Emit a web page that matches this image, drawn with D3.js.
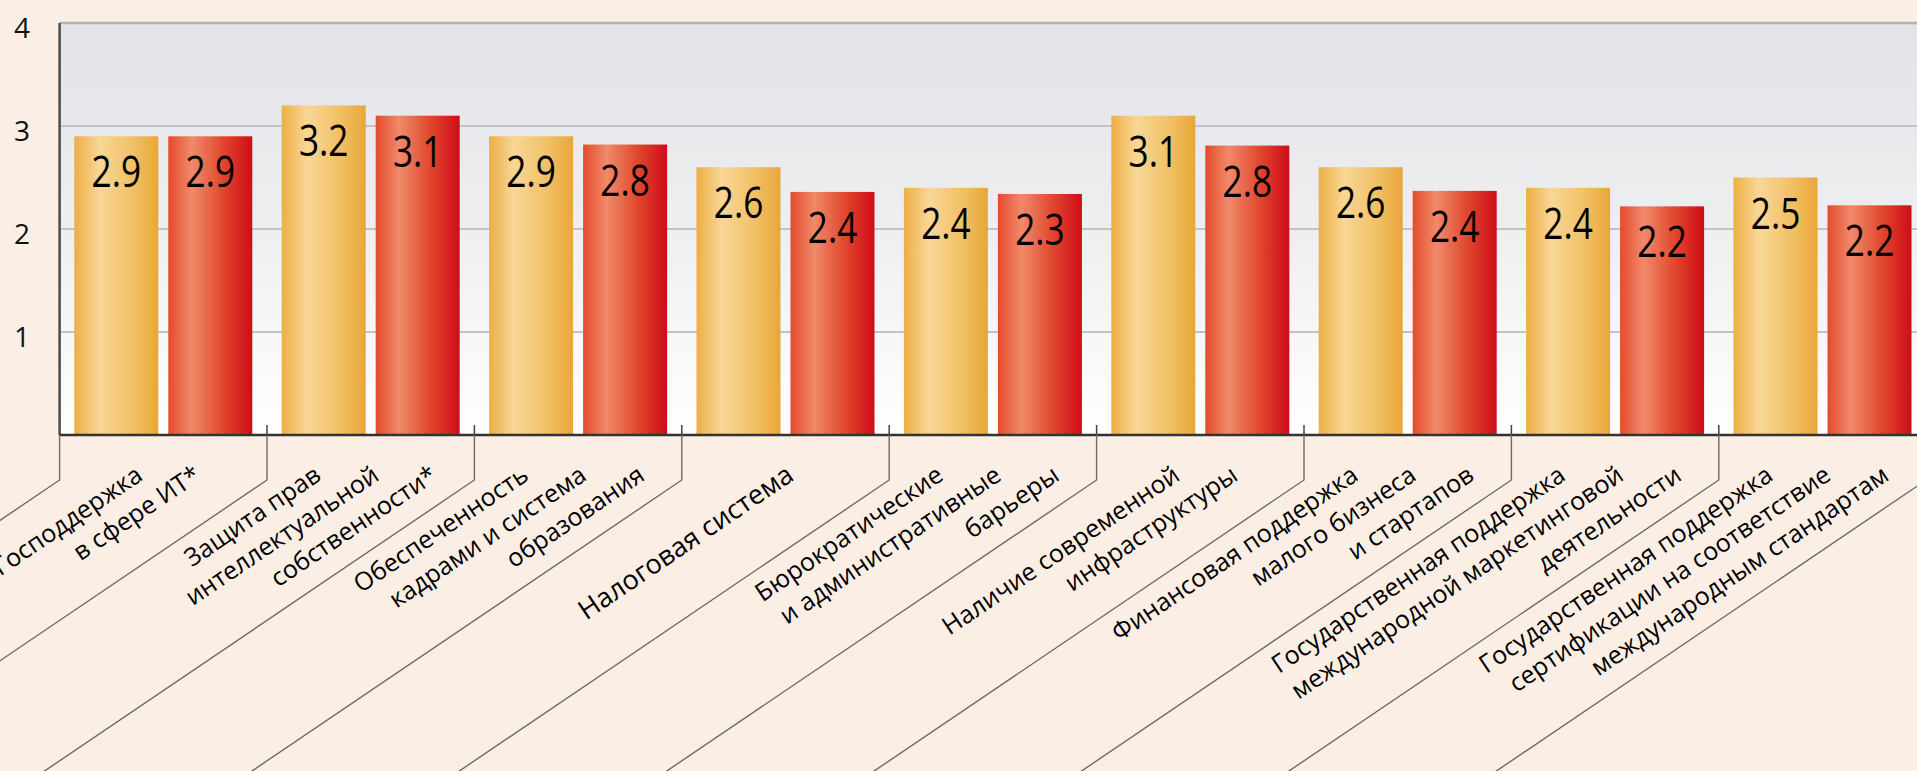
<!DOCTYPE html>
<html>
<head>
<meta charset="utf-8">
<script src="https://cdn.jsdelivr.net/npm/d3@7"></script>
<style>
  html, body { margin: 0; padding: 0; background: #fbefe5; overflow: hidden; }
  svg { display: block; }
</style>
</head>
<body>
<div id="chart"></div>
<script>
// Chart data
const categories = [
    ["Господдержка", "в сфере ИТ*"],
    ["Защита прав", "интеллектуальной", "собственности*"],
    ["Обеспеченность", "кадрами и система", "образования"],
    ["Налоговая система"],
    ["Бюрократические", "и административные", "барьеры"],
    ["Наличие современной", "инфраструктуры"],
    ["Финансовая поддержка", "малого бизнеса", "и стартапов"],
    ["Государственная поддержка", "международной маркетинговой", "деятельности"],
    ["Государственная поддержка", "сертификации на соответствие", "международным стандартам"]
];
const yellowValues = [2.9, 3.2, 2.9, 2.6, 2.4, 3.1, 2.6, 2.4, 2.5];
const redValues = [2.9, 3.1, 2.82, 2.36, 2.34, 2.81, 2.37, 2.22, 2.23];
const yTicks = [1, 2, 3, 4];

const width = 1917;
const height = 771;
const plotLeft = 59.6;
const groupStep = 207.4;
const plotTop = 23;
const baseY = 435;

const svg = d3.select("#chart").append("svg")
    .attr("width", width)
    .attr("height", height);

// Scales
const x = d3.scaleBand()
    .domain(d3.range(categories.length))
    .range([plotLeft, plotLeft + groupStep * categories.length])
    .paddingInner(0)
    .paddingOuter(0);

const xInner = d3.scaleBand()
    .domain(["yellow", "red"])
    .range([14.7, 192.7])
    .paddingInner(10 / 94);

const y = d3.scaleLinear()
    .domain([0, 4])
    .range([baseY, plotTop]);

// Gradients
const defs = svg.append("defs");

const bg = defs.append("linearGradient")
    .attr("id", "plotBg")
    .attr("x1", 0).attr("y1", 0).attr("x2", 0).attr("y2", 1);
bg.append("stop").attr("offset", "0%").attr("stop-color", "#e1e3e6");
bg.append("stop").attr("offset", "55%").attr("stop-color", "#eff0f2");
bg.append("stop").attr("offset", "100%").attr("stop-color", "#ffffff");

const yellowGrad = defs.append("linearGradient")
    .attr("id", "yellowGrad")
    .attr("x1", 0).attr("y1", 0).attr("x2", 1).attr("y2", 0);
yellowGrad.append("stop").attr("offset", "0%").attr("stop-color", "#edae45");
yellowGrad.append("stop").attr("offset", "30%").attr("stop-color", "#f8d796");
yellowGrad.append("stop").attr("offset", "70%").attr("stop-color", "#f1c065");
yellowGrad.append("stop").attr("offset", "100%").attr("stop-color", "#e9a638");

const redGrad = defs.append("linearGradient")
    .attr("id", "redGrad")
    .attr("x1", 0).attr("y1", 0).attr("x2", 1).attr("y2", 0);
redGrad.append("stop").attr("offset", "0%").attr("stop-color", "#e54a2c");
redGrad.append("stop").attr("offset", "28%").attr("stop-color", "#f08a6b");
redGrad.append("stop").attr("offset", "65%").attr("stop-color", "#e0472e");
redGrad.append("stop").attr("offset", "100%").attr("stop-color", "#cf0c18");

// Plot background
svg.append("rect")
    .attr("x", plotLeft)
    .attr("y", plotTop)
    .attr("width", x.range()[1] - plotLeft)
    .attr("height", baseY - plotTop)
    .attr("fill", "url(#plotBg)");

// Gridlines
svg.append("g")
    .selectAll("line")
    .data(yTicks)
    .enter().append("line")
    .attr("x1", plotLeft)
    .attr("x2", width)
    .attr("y1", d => y(d))
    .attr("y2", d => y(d))
    .attr("stroke", d => d === 4 ? "#b0b1b3" : "#c2c3c5")
    .attr("stroke-width", d => d === 4 ? 2.5 : 2);

// Y tick labels
svg.append("g")
    .selectAll("text")
    .data(yTicks)
    .enter().append("text")
    .attr("x", 22)
    .attr("y", d => y(d) + 15)
    .attr("text-anchor", "middle")
    .attr("font-family", "'Open Sans', 'Noto Sans', sans-serif")
    .attr("font-size", 28)
    .attr("fill", "#111")
    .text(d => d);

// Bars
const rows = categories.map((c, i) => ({ i, yellow: yellowValues[i], red: redValues[i] }));

const group = svg.append("g")
    .selectAll("g")
    .data(rows)
    .enter().append("g")
    .attr("transform", d => `translate(${x(d.i)},0)`);

const bars = group.selectAll("g.bar")
    .data(d => [{ key: "yellow", v: d.yellow }, { key: "red", v: d.red }])
    .enter().append("g")
    .attr("class", "bar");

bars.append("rect")
    .attr("x", d => xInner(d.key))
    .attr("y", d => y(d.v))
    .attr("width", xInner.bandwidth())
    .attr("height", d => baseY - y(d.v))
    .attr("fill", d => d.key === "yellow" ? "url(#yellowGrad)" : "url(#redGrad)");

// Value labels, slightly condensed
bars.append("text")
    .attr("transform", d => `translate(${xInner(d.key) + xInner.bandwidth() / 2},${y(d.v) + 51}) scale(0.8,1)`)
    .attr("text-anchor", "middle")
    .attr("font-family", "'Open Sans', 'Noto Sans', sans-serif")
    .attr("font-size", 44)
    .attr("font-weight", 500)
    .attr("fill", "#000")
    .text(d => d3.format(".1f")(d.v));

// Axis lines
svg.append("line")
    .attr("x1", plotLeft).attr("x2", plotLeft)
    .attr("y1", plotTop).attr("y2", baseY)
    .attr("stroke", "#4a4a4a")
    .attr("stroke-width", 2.5);

svg.append("line")
    .attr("x1", plotLeft).attr("x2", width)
    .attr("y1", baseY).attr("y2", baseY)
    .attr("stroke", "#333")
    .attr("stroke-width", 2.5);

// Group boundaries: small ticks and leader lines
const boundaries = d3.range(categories.length + 1).map(i => plotLeft + groupStep * i);
const slope = 0.677;
const bendY = 480;

svg.append("g")
    .selectAll("line")
    .data(boundaries.slice(1, -1))
    .enter().append("line")
    .attr("x1", d => d).attr("x2", d => d)
    .attr("y1", baseY - 10).attr("y2", baseY)
    .attr("stroke", "#444")
    .attr("stroke-width", 1.5);

svg.append("g")
    .selectAll("path")
    .data(boundaries)
    .enter().append("path")
    .attr("d", d => `M${d},${baseY}V${bendY}L${d - (height + 20 - bendY) / slope},${height + 20}`)
    .attr("fill", "none")
    .attr("stroke", "#6b6b6b")
    .attr("stroke-width", 1.4);

// Category labels, rotated along the leader lines
const angle = Math.atan(slope) * 180 / Math.PI;
const lineShift = 58;

const labels = svg.append("g")
    .selectAll("g")
    .data(categories)
    .enter().append("g");

labels.selectAll("text")
    .data((lines, i) => lines.map((t, k) => ({
        t,
        single: lines.length === 1,
        ex: x(i) + x.bandwidth() / 2 + 10 + (k - (lines.length - 1) / 2) * lineShift
    })))
    .enter().append("text")
    .attr("transform", d => `translate(${d.ex},479) rotate(${-angle})`)
    .attr("text-anchor", "end")
    .attr("font-family", "'Open Sans', 'Noto Sans', sans-serif")
    .attr("font-size", d => d.single ? 27 : 25)
    .attr("font-weight", 500)
    .attr("fill", "#000")
    .text(d => d.t);
</script>
</body>
</html>
